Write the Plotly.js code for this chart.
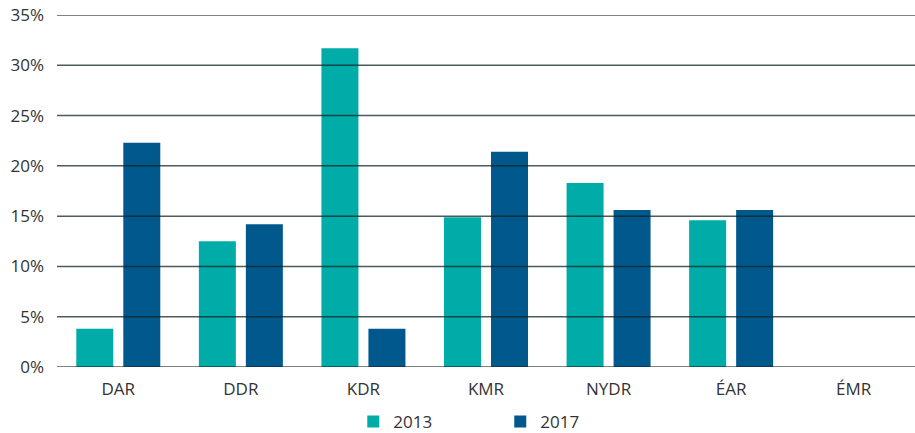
<!DOCTYPE html>
<html>
<head>
<meta charset="utf-8">
<script src="https://cdn.plot.ly/plotly-3.0.1.min.js"></script>
<style>html,body{margin:0;padding:0;background:#fff;}#chart{width:915px;height:433px;}</style>
</head>
<body>
<div id="chart"></div>
<script>
const categories = ["DAR", "DDR", "KDR", "KMR", "NYDR", "ÉAR", "ÉMR"];
const values2013 = [0.038, 0.125, 0.317, 0.149, 0.183, 0.146, null];
const values2017 = [0.223, 0.142, 0.038, 0.214, 0.156, 0.156, null];
const yTicks = [0, 0.05, 0.10, 0.15, 0.20, 0.25, 0.30, 0.35];
const yTickLabels = ["0%", "5%", "10%", "15%", "20%", "25%", "30%", "35%"];

const font = {family: "Open Sans, sans-serif", size: 17, color: "#333"};

const traces = [
  {type: "bar", name: "2013", x: categories, y: values2013, marker: {color: "#00ACA8"}},
  {type: "bar", name: "2017", x: categories, y: values2017, marker: {color: "#00588C"}}
];

const shapes = yTicks.map(v => ({
  type: "line", xref: "paper", yref: "y", x0: 0, x1: 1, y0: v, y1: v,
  layer: "above", line: {color: "rgba(20,35,35,0.75)", width: 1.5}
}));

const layout = {
  width: 915, height: 433,
  margin: {l: 57, r: 0, t: 15, b: 66, autoexpand: false},
  paper_bgcolor: "#fff", plot_bgcolor: "#fff",
  font: font,
  barmode: "group",
  bargap: 0.233,
  bargroupgap: 0.213,
  showlegend: true,
  legend: {orientation: "h", x: 0.3453, xanchor: "left", y: -0.207, yanchor: "bottom",
           entrywidth: 102, entrywidthmode: "pixels", font: {family: font.family, size: 17, color: "#333"}, itemwidth: 30},
  xaxis: {showgrid: false, showline: false, zeroline: false, ticks: "", tickfont: font, fixedrange: true,
          automargin: false, ticklabelstandoff: 10},
  yaxis: {range: [0, 0.35], tickvals: yTicks, ticktext: yTickLabels, showgrid: false, zeroline: false,
          showline: false, ticks: "", ticklabelstandoff: 12, tickfont: font, fixedrange: true, automargin: false},
  shapes: shapes
};

Plotly.newPlot("chart", traces, layout, {displayModeBar: false, staticPlot: true});
</script>
</body>
</html>
